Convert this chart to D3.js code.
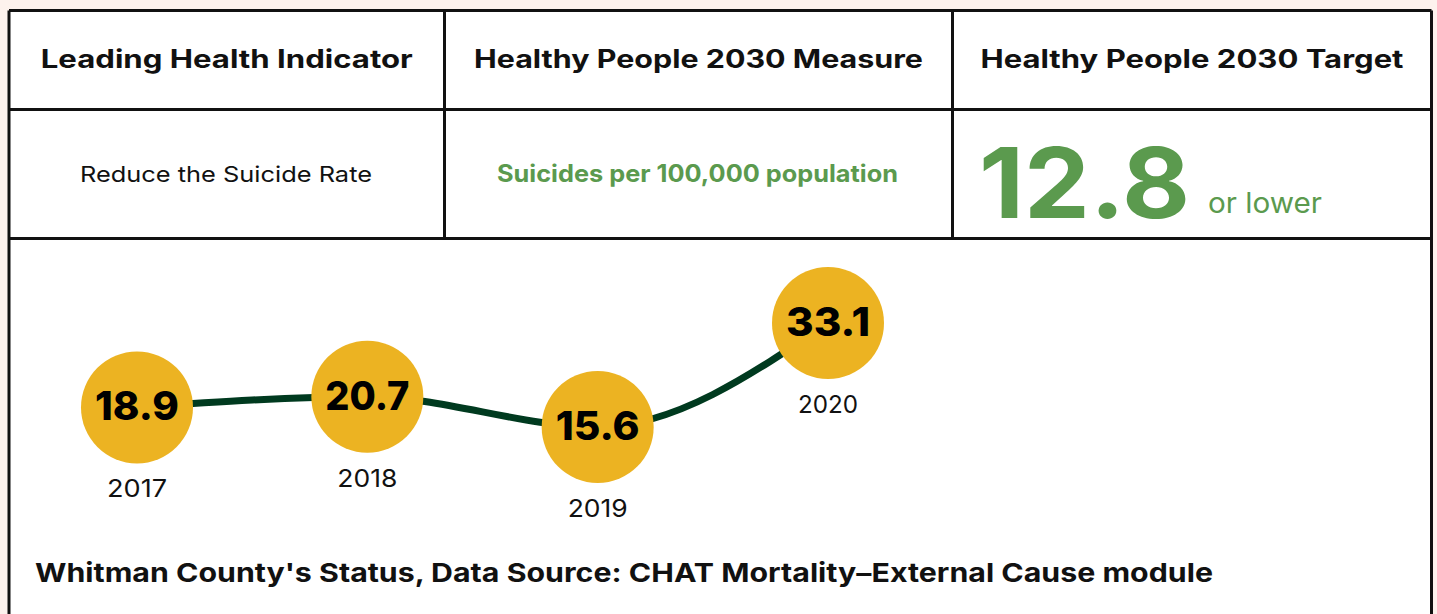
<!DOCTYPE html>
<html>
<head>
<meta charset="utf-8">
<script src="https://cdn.jsdelivr.net/npm/d3@7"></script>
<style>
  html, body { margin: 0; padding: 0; background: #fdf2ed; }
  svg { display: block; }
</style>
</head>
<body>
<svg id="chart" width="1437" height="614"></svg>
<script>
// data
const years = ['2017', '2018', '2019', '2020'];
const rates = [18.9, 20.7, 15.6, 33.1];
const headerLabels = ['Leading Health Indicator', 'Healthy People 2030 Measure', 'Healthy People 2030 Target'];
const indicatorLabel = 'Reduce the Suicide Rate';
const measureLabel = 'Suicides per 100,000 population';
const targetValue = '12.8';
const targetSuffix = 'or lower';
const footerLabel = "Whitman County's Status, Data Source: CHAT Mortality\u2013External Cause module";

const svg = d3.select('#chart');
const W = 1437, H = 614;
const font = 'Inter, Lato, sans-serif';
const green = '#5b9a4e';
const ink = '#111';

// the original type face is wider than Inter, so stretch text to its width
function fit(sel, w) {
    sel.attr('textLength', w).attr('lengthAdjust', 'spacingAndGlyphs');
    return sel;
}

// table geometry
const tLeft = 9, tRight = 1431.5, tTop = 10.5;
const rowLines = [109.5, 238.5];
const colLines = [tLeft, 444.5, 952.5, tRight];
const headerWidths = [372, 449, 423];

svg.append('rect')
    .attr('x', tLeft).attr('y', tTop)
    .attr('width', tRight - tLeft).attr('height', H)
    .attr('fill', '#fff');

const grid = svg.append('g')
    .attr('stroke', ink)
    .attr('stroke-width', 3);

grid.append('line').attr('x1', tLeft).attr('x2', tRight).attr('y1', tTop).attr('y2', tTop);
rowLines.forEach(y => {
    grid.append('line').attr('x1', tLeft).attr('x2', tRight).attr('y1', y).attr('y2', y);
});
// outer sides run to the bottom
grid.append('line').attr('x1', tLeft).attr('x2', tLeft).attr('y1', tTop).attr('y2', H + 5);
grid.append('line').attr('x1', tRight).attr('x2', tRight).attr('y1', tTop).attr('y2', H + 5);
// inner column dividers only through the two table rows
[colLines[1], colLines[2]].forEach(x => {
    grid.append('line').attr('x1', x).attr('x2', x).attr('y1', tTop).attr('y2', rowLines[1]);
});

// header row
svg.append('g')
    .selectAll('text')
    .data(headerLabels)
    .enter().append('text')
    .attr('x', (d, i) => (colLines[i] + colLines[i + 1]) / 2)
    .attr('y', 68)
    .attr('text-anchor', 'middle')
    .attr('font-family', font)
    .attr('font-weight', 700)
    .attr('font-size', '25px')
    .attr('fill', ink)
    .attr('textLength', (d, i) => headerWidths[i])
    .attr('lengthAdjust', 'spacingAndGlyphs')
    .text(d => d);

// second row
fit(svg.append('text')
    .attr('x', 226)
    .attr('y', 182)
    .attr('text-anchor', 'middle')
    .attr('font-family', font)
    .attr('font-size', '22px')
    .attr('fill', ink)
    .text(indicatorLabel), 292);

fit(svg.append('text')
    .attr('x', 697.5)
    .attr('y', 182)
    .attr('text-anchor', 'middle')
    .attr('font-family', font)
    .attr('font-weight', 700)
    .attr('font-size', '24px')
    .attr('fill', green)
    .text(measureLabel), 401);

fit(svg.append('text')
    .attr('x', 979)
    .attr('y', 218)
    .attr('font-family', font)
    .attr('font-weight', 700)
    .attr('font-size', '98px')
    .attr('fill', green)
    .text(targetValue), 211);

fit(svg.append('text')
    .attr('x', 1208)
    .attr('y', 213)
    .attr('font-family', font)
    .attr('font-size', '28px')
    .attr('fill', green)
    .text(targetSuffix), 114);

// line chart
const x = d3.scalePoint()
    .domain(years)
    .range([137, 828]);

const y = d3.scaleLinear()
    .domain([15.6, 33.1])
    .range([427, 323]);

const r = 56;
const points = years.map((yr, i) => ({ year: yr, value: rates[i] }));

const line = d3.line()
    .x(d => x(d.year))
    .y(d => y(d.value))
    .curve(d3.curveMonotoneX);

svg.append('path')
    .datum(points)
    .attr('d', line)
    .attr('fill', 'none')
    .attr('stroke', '#003a1f')
    .attr('stroke-width', 7)
    .attr('stroke-linecap', 'round');

const node = svg.append('g')
    .selectAll('g')
    .data(points)
    .enter().append('g')
    .attr('transform', d => `translate(${x(d.year)},${y(d.value)})`);

node.append('circle')
    .attr('r', r)
    .attr('fill', '#ecb322');

node.append('text')
    .attr('y', 13)
    .attr('text-anchor', 'middle')
    .attr('font-family', font)
    .attr('font-weight', 800)
    .attr('font-size', '40px')
    .attr('fill', '#000')
    .attr('textLength', 84)
    .attr('lengthAdjust', 'spacingAndGlyphs')
    .text(d => d.value.toFixed(1));

node.append('text')
    .attr('y', r + 34)
    .attr('text-anchor', 'middle')
    .attr('font-family', font)
    .attr('font-size', '24px')
    .attr('fill', ink)
    .attr('textLength', 60)
    .attr('lengthAdjust', 'spacingAndGlyphs')
    .text(d => d.year);

// footer
fit(svg.append('text')
    .attr('x', 35)
    .attr('y', 582)
    .attr('font-family', font)
    .attr('font-weight', 700)
    .attr('font-size', '26px')
    .attr('fill', ink)
    .text(footerLabel), 1178);
</script>
</body>
</html>
